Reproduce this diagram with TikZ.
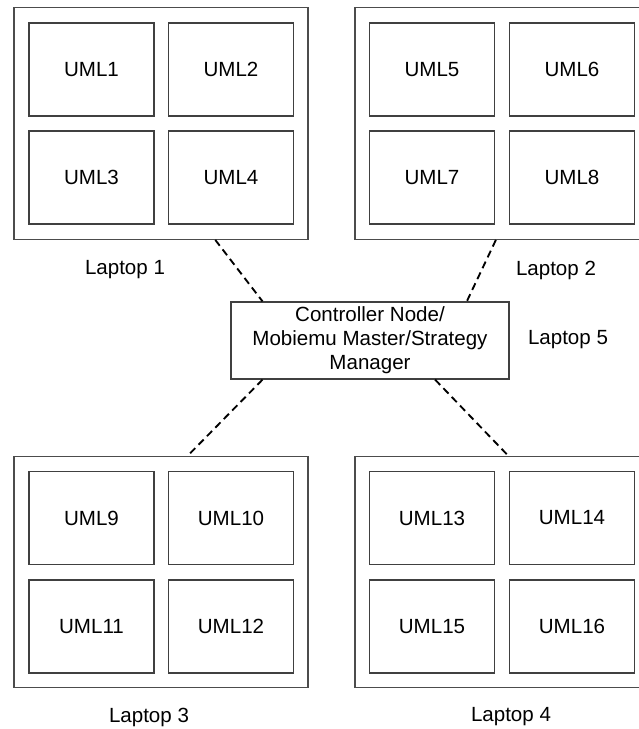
\documentclass[tikz,border=0pt]{standalone}
\usepackage{fontspec}
\setmainfont{Liberation Sans}
\usepackage{tikz}

\begin{document}
\begin{tikzpicture}[x=0.75pt,y=-0.75pt,
		every node/.style={font=\fontsize{15.4}{18}\selectfont},
		umlbox/.style={draw=black!75,line width=0.9pt,minimum width=93.75pt,minimum height=69.75pt,inner sep=0pt},
		laptop/.style={draw=black!70,line width=1pt,minimum width=220.5pt,minimum height=173.6pt,inner sep=0pt},
		ctrlbox/.style={draw=black!75,line width=0.9pt,minimum width=208.5pt,minimum height=57.75pt,inner sep=0pt,align=center},
		link/.style={black,line width=1.4pt,dash pattern=on 5.5pt off 3.5pt}]
				\useasboundingbox (0,0) rectangle (639,729);
				\clip (0,0) rectangle (639,729);
	
				\node[laptop] (lap1) at (161,123.5) {};
				\node[laptop] (lap2) at (502,123.5) {};
				\node[laptop] (lap3) at (161,572) {};
				\node[laptop] (lap4) at (502,572) {};
	
				\node[umlbox] (uml1) at (91.5,69.5) {UML1};
				\node[umlbox] (uml2) at (231,69.5) {UML2};
				\node[umlbox] (uml3) at (91.5,177.5) {UML3};
				\node[umlbox] (uml4) at (231,177.5) {UML4};
				\node[umlbox] (uml5) at (432,69.5) {UML5};
				\node[umlbox] (uml6) at (572,69.5) {UML6};
				\node[umlbox] (uml7) at (432,177.5) {UML7};
				\node[umlbox] (uml8) at (572,177.5) {UML8};
				\node[umlbox] (uml9) at (91.5,518) {UML9};
				\node[umlbox] (uml10) at (231,518) {UML10};
				\node[umlbox] (uml11) at (91.5,626.5) {UML11};
				\node[umlbox] (uml12) at (231,626.5) {UML12};
				\node[umlbox] (uml13) at (432,518) {UML13};
				\node[umlbox] (uml14) at (572,518) {UML14};
				\node[umlbox] (uml15) at (432,626.5) {UML15};
				\node[umlbox] (uml16) at (572,626.5) {UML16};
	
				\node[ctrlbox] (ctrl) at (370,340.5) {Controller Node/\\Mobiemu Master/Strategy\\Manager};
	
				\node (lab1) at (125,270) {Laptop 1};
				\node (lab2) at (556,270) {Laptop 2};
				\node (lab5) at (568,340) {Laptop 5};
				\node (lab3) at (149,717) {Laptop 3};
				\node (lab4) at (511,717) {Laptop 4};
	
				\draw[link] (lap1.-65) -- (ctrl.160);
				\draw[link] (lap2.-93) -- (ctrl.22);
				\draw[link] (ctrl.-160) -- (lap3.77);
				\draw[link] (ctrl.-31) -- (lap4.87);
			\end{tikzpicture}
\end{document}
